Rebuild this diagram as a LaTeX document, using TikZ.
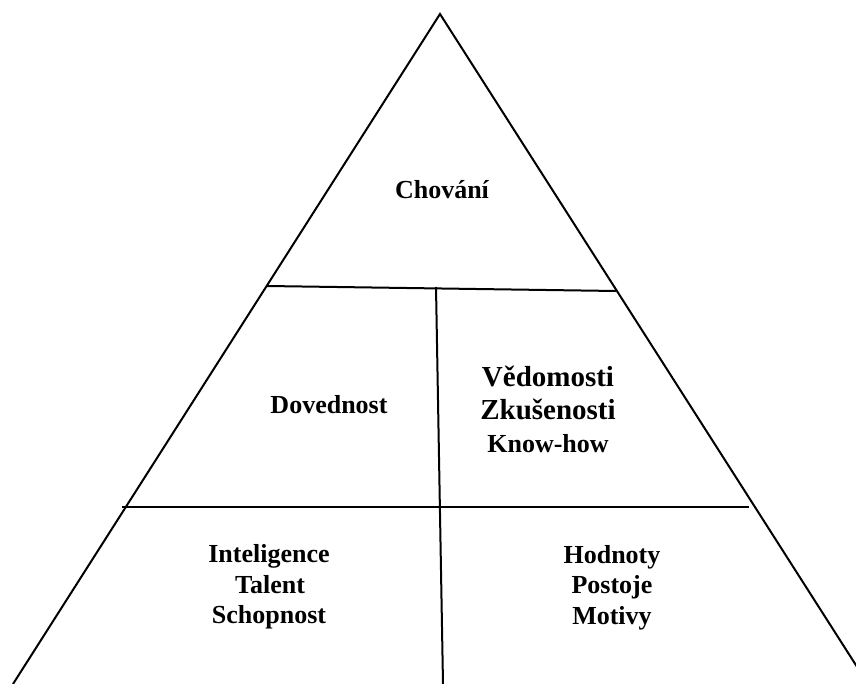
\documentclass[tikz,border=0pt]{standalone}
\usepackage{fontspec}
\setmainfont{Liberation Serif}
\begin{document}
\begin{tikzpicture}[x=1pt,y=-1pt,
  edge/.style={line width=2pt,black},
  lbl/.style={anchor=base,inner sep=0pt,font=\bfseries\fontsize{26}{31}\selectfont},
  lblbig/.style={anchor=base,inner sep=0pt,font=\bfseries\fontsize{29}{34}\selectfont}]
\useasboundingbox (0,0) rectangle (856,684);
\clip (0,0) rectangle (856,684);
% key points
\coordinate (apex) at (440,14);
\coordinate (bl) at (13,684);
\coordinate (br) at (868,684);
\coordinate (u1) at (267,286);
\coordinate (u2) at (616,291);
\coordinate (l1) at (122,507);
\coordinate (l2) at (749,507);
\coordinate (v1) at (436,287);
\coordinate (v2) at (443,684);
\draw[edge] (bl) -- (apex) -- (br);
\draw[edge] (u1) -- (u2);
\draw[edge] (l1) -- (l2);
\draw[edge] (v1) -- (v2);
% labels
\node[lbl] (chov) at (442,199) {Chování};
\node[lbl] (dov) at (329,413) {Dovednost};
\node[lblbig] (ved) at (548,386) {Vědomosti};
\node[lblbig] (zku) at (548,419) {Zkušenosti};
\node[lbl] (know) at (548,452) {Know-how};
\node[lbl] (int) at (269,562) {Inteligence};
\node[lbl] (tal) at (270,593) {Talent};
\node[lbl] (sch) at (269,623) {Schopnost};
\node[lbl] (hod) at (612,563) {Hodnoty};
\node[lbl] (pos) at (612,593) {Postoje};
\node[lbl] (mot) at (612,624) {Motivy};
\end{tikzpicture}
\end{document}
